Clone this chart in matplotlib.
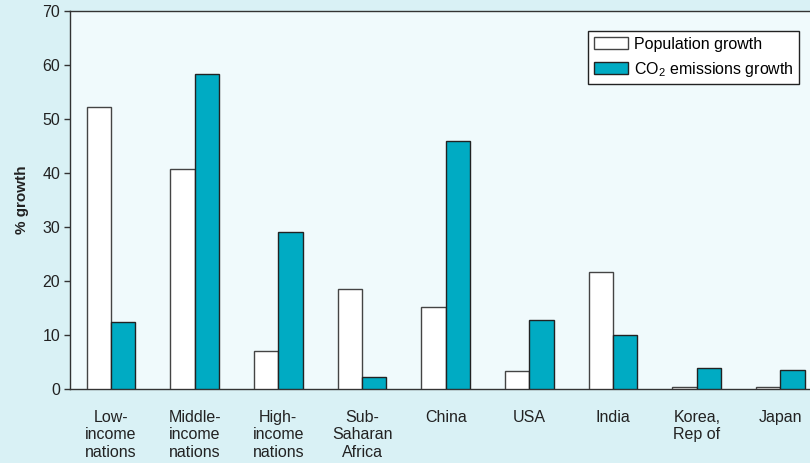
import matplotlib
matplotlib.use("Agg")
import matplotlib.pyplot as plt
import numpy as np

plt.rcParams['font.family'] = ['Liberation Sans', 'DejaVu Sans']
plt.rcParams['mathtext.fontset'] = 'custom'
plt.rcParams['mathtext.rm'] = 'Liberation Sans'
plt.rcParams['mathtext.it'] = 'Liberation Sans'

categories = ["Low-\nincome\nnations", "Middle-\nincome\nnations", "High-\nincome\nnations",
              "Sub-\nSaharan\nAfrica", "China", "USA", "India", "Korea,\nRep of", "Japan"]
population_growth = [52.2, 40.7, 7.0, 18.5, 15.2, 3.3, 21.7, 0.3, 0.3]
co2_growth = [12.5, 58.3, 29.1, 2.2, 45.9, 12.8, 10.0, 3.9, 3.5]
yticks = [0, 10, 20, 30, 40, 50, 60, 70]

fig_bg = '#d9f1f5'
ax_bg = '#f0fafc'
teal = '#00abc3'

fig = plt.figure(figsize=(8.1, 4.63), dpi=100, facecolor=fig_bg)
ax = fig.add_axes([70/810, 74/463, 1.0 - 70/810 + 0.01, (389-11)/463])
ax.set_facecolor(ax_bg)

x = np.arange(len(categories))
w = 0.29
ax.bar(x - w/2, population_growth, w, color='white', edgecolor='#444444', linewidth=1.0,
       label='Population growth', zorder=3)
ax.bar(x + w/2, co2_growth, w, color=teal, edgecolor='#222222', linewidth=1.0,
       label='CO$_2$ emissions growth', zorder=3)

ax.set_xlim(-0.49, 8.45)
ax.set_ylim(0, 70)
ax.set_yticks(yticks)
ax.set_yticklabels([str(v) for v in yticks], fontsize=11.5, color='#222222')
ax.tick_params(axis='y', direction='out', length=4, width=1, color='#333333', pad=3)
ax.set_xticks(x)
ax.set_xticklabels(categories, fontsize=11.5, color='#222222', linespacing=1.2)
ax.tick_params(axis='x', length=0, pad=15)

for s in ['left', 'bottom', 'top']:
    ax.spines[s].set_color('#333333')
    ax.spines[s].set_linewidth(1.0)
ax.spines['right'].set_visible(False)

ax.set_ylabel('% growth', fontsize=11, fontweight='bold', color='#222222', labelpad=10)

leg = ax.legend(loc='upper right', bbox_to_anchor=(0.975, 0.947), fontsize=11.5,
                frameon=True, fancybox=False, edgecolor='#222222', framealpha=1,
                handlelength=2.1, handleheight=0.8, borderpad=0.35, labelspacing=0.5,
                handletextpad=0.4, borderaxespad=0)
leg.get_frame().set_linewidth(1.0)

fig.savefig('out.png', dpi=100, facecolor=fig_bg)
